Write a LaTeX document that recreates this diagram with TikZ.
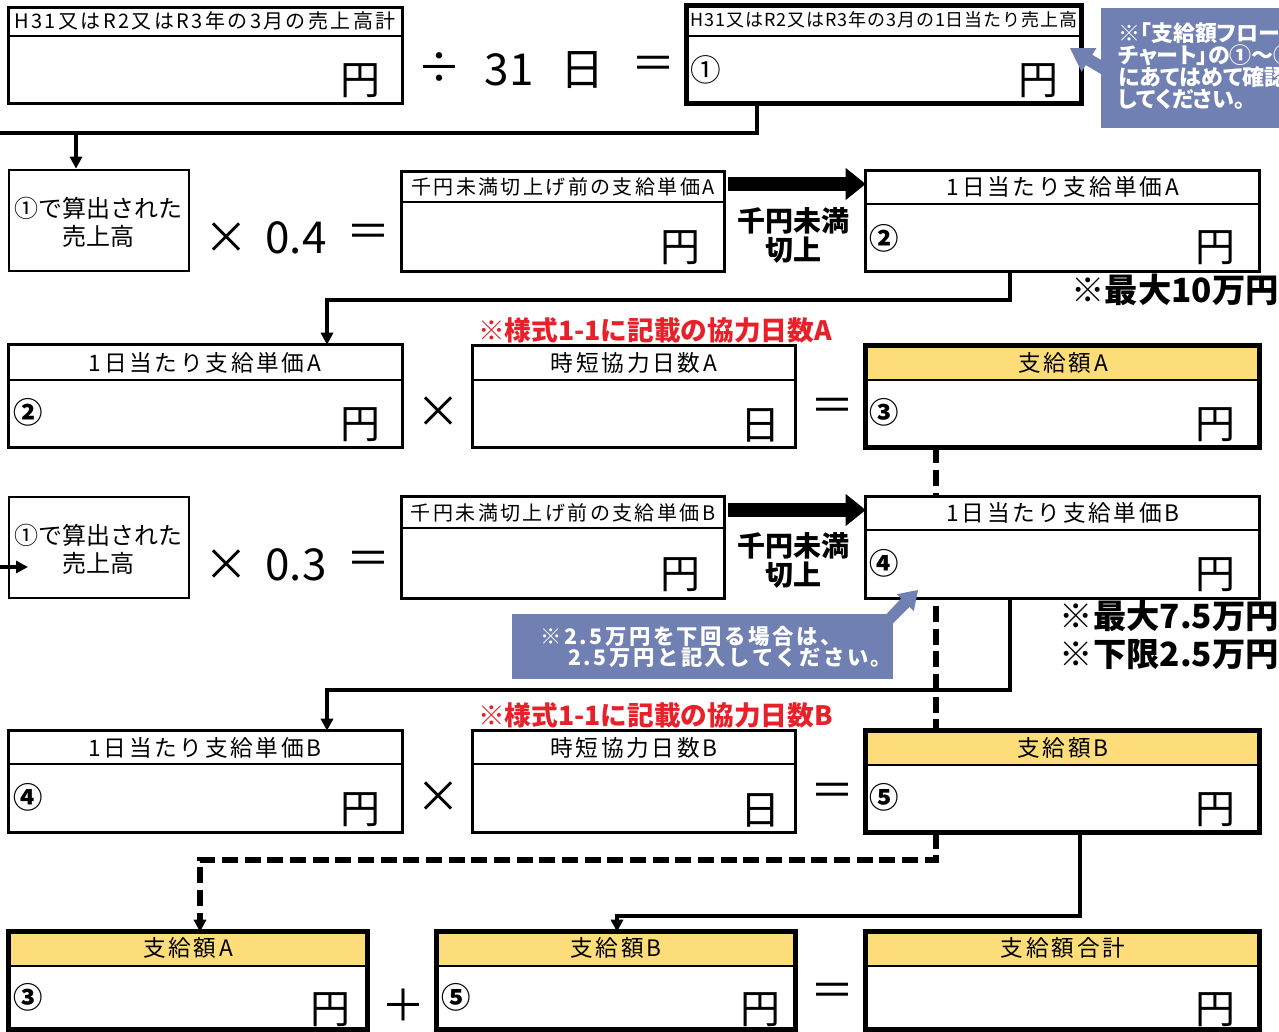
\documentclass[tikz,border=0pt]{standalone}
\usepackage{fontspec}
\setmainfont{Noto Sans CJK JP}
\newfontfamily\hsp[LetterSpace=12]{Noto Sans CJK JP}
\newfontfamily\hspn[LetterSpace=5]{Noto Sans CJK JP}
\newfontfamily\jpp[RawFeature=+palt]{Noto Sans CJK JP}
\usetikzlibrary{arrows.meta,fit,backgrounds}
\definecolor{cyel}{HTML}{FDDD7A}
\definecolor{cblue}{HTML}{7080B2}
\definecolor{cred}{HTML}{E8202A}
% name, x1,y1,x2,y2, header y, header fill, border width
\newcommand{\formbox}[8]{%
  \node[fill=white, inner sep=0pt, fit={(#2,#3) (#4,#5)}] (#1) {};
  \fill[#7] (#1.north west) rectangle (#1.east |- 0,#6);
  \draw[line width=2pt] (#1.west |- 0,#6) -- (#1.east |- 0,#6);
  \draw[line width=#8] (#1.north west) rectangle (#1.south east);
}
\begin{document}
\begin{tikzpicture}[x=0.75pt,y=-0.75pt,
  conn/.style={line width=2.6pt, -{Triangle[length=9pt,width=9pt]}},
  dconn/.style={line width=4pt, dash pattern=on 12pt off 5pt, -{Triangle[length=9pt,width=9pt]}},
  fat/.style={line width=11pt, -{Triangle[length=15pt,width=23pt]}, shorten <=3pt},
  plainbox/.style={draw, line width=2pt, fill=white, inner sep=0pt},
  hA/.style={font=\hsp\fontsize{15}{15}\selectfont, inner sep=0pt},
  hB/.style={font=\hspn\fontsize{13.5}{13.5}\selectfont, inner sep=0pt},
  hC/.style={font=\hsp\fontsize{15}{15}\selectfont, inner sep=0pt},
  hD/.style={font=\hsp\fontsize{17}{17}\selectfont, inner sep=0pt},
  yen/.style={font=\fontsize{30}{30}\selectfont, inner sep=0pt},
  circ/.style={font=\bfseries\fontsize{22}{22}\selectfont, inner sep=0pt},
  op/.style={font=\fontsize{33}{33}\selectfont, inner sep=0pt},
  num/.style={font=\fontsize{33}{33}\selectfont, inner sep=0pt},
  lab/.style={font=\bfseries\fontsize{21}{21}\selectfont, inner sep=0pt},
  maxnote/.style={font=\bfseries\fontsize{25}{25}\selectfont, inner sep=0pt, anchor=east},
  rednote/.style={font=\bfseries\fontsize{20}{20}\selectfont, text=cred, inner sep=0pt, anchor=west},
  salesbox/.style={font=\fontsize{18}{21}\selectfont, align=center, inner sep=0pt},
  cotext/.style={font=\jpp\bfseries\fontsize{16.5}{16.5}\selectfont, text=white, inner sep=0pt, anchor=west},
  cotextb/.style={font=\hsp\bfseries\fontsize{16}{16}\selectfont, text=white, inner sep=0pt, anchor=west}
]
\clip (0,0) rectangle (1279,1032);

\coordinate (k1) at (757,133);
\coordinate (k2) at (-6,133);
\coordinate (k3) at (-6,567);
\coordinate (j1) at (76,133);
\coordinate (k4) at (1010,300);
\coordinate (k5) at (1010,690);
\coordinate (k6) at (936,860);
\coordinate (k7) at (1080,916);
\coordinate (t9) at (28,567);

% ---------- row 1 ----------
\formbox{b1}{9}{8}{402}{103}{36}{white}{2pt}
\node[hA] (b1h) at (205,21) {H31又はR2又はR3年の3月の売上高計};
\node[yen] (b1y) at (360,81) {円};
\node[op] (o1) at (439,68) {÷};
\node[op] (o2) at (509,70) {31};
\node[op] (o3) at (582,70) {日};
\node[op] (o4) at (653,68) {＝};
\formbox{b2}{687}{6}{1081}{103}{36}{white}{3.4pt}
\node[hB] (b2h) at (884,20) {H31又はR2又はR3年の3月の1日当たり売上高};
\node[circ, font=\fontsize{23}{23}\selectfont] (b2c) at (706,70) {①};
\node[yen] (b2y) at (1038,81) {円};

% ---------- row 2 ----------
\node[plainbox, fit={(9,170) (189,271)}] (b3) {};
\node[salesbox] (b3t) at (98,222) {①で算出された\\売上高};
\node[op] (o5) at (226,238) {×};
\node[num] (o6) at (296,238) {0.4};
\node[op] (o7) at (368,236) {＝};
\formbox{b4}{402}{172}{724}{271}{202}{white}{2pt}
\node[hC] (b4h) at (563,187) {千円未満切上げ前の支給単価A};
\node[yen] (b4y) at (680,248) {円};
\formbox{b5}{866}{171}{1259}{271}{204}{white}{2pt}
\node[hD] (b5h) at (1063,187) {1日当たり支給単価A};
\node[circ] (b5c) at (884,238) {②};
\node[yen] (b5y) at (1215,248) {円};
\node[lab] (l1a) at (793,221) {千円未満};
\node[lab] (l1b) at (793,250) {切上};
\node[maxnote] (m1) at (1279,290) {※最大10万円};

% ---------- row 3 ----------
\formbox{b6}{9}{345}{402}{447}{380}{white}{2pt}
\node[hD] (b6h) at (205,363) {1日当たり支給単価A};
\node[circ] (b6c) at (28,412) {②};
\node[yen] (b6y) at (360,425) {円};
\node[op] (o8) at (438,412) {×};
\node[rednote] (r1) at (478,330) {※様式1-1に記載の協力日数A};
\formbox{b7}{473}{346}{795}{447}{380}{white}{2pt}
\node[hD] (b7h) at (634,363) {時短協力日数A};
\node[yen] (b7y) at (760,425) {日};
\node[op] (o9) at (832,410) {＝};
\formbox{b8}{866}{346}{1259}{447}{380}{cyel}{3.4pt}
\node[hD] (b8h) at (1063,363) {支給額A};
\node[circ] (b8c) at (884,412) {③};
\node[yen] (b8y) at (1215,425) {円};

% ---------- row 4 ----------
\node[plainbox, fit={(9,497) (189,598)}] (b9) {};
\node[salesbox] (b9t) at (98,549) {①で算出された\\売上高};
\node[op] (o10) at (226,565) {×};
\node[num] (o11) at (296,565) {0.3};
\node[op] (o12) at (368,563) {＝};
\formbox{b10}{402}{497}{724}{598}{528}{white}{2pt}
\node[hC] (b10h) at (563,513) {千円未満切上げ前の支給単価B};
\node[yen] (b10y) at (680,575) {円};
\formbox{b11}{866}{497}{1259}{598}{530}{white}{2pt}
\node[hD] (b11h) at (1063,513) {1日当たり支給単価B};
\node[circ] (b11c) at (884,563) {④};
\node[yen] (b11y) at (1215,575) {円};
\node[lab] (l2a) at (793,546) {千円未満};
\node[lab] (l2b) at (793,575) {切上};
\node[maxnote] (m2) at (1279,616) {※最大7.5万円};
\node[maxnote] (m3) at (1279,654) {※下限2.5万円};

% ---------- row 5 ----------
\formbox{b12}{9}{731}{402}{832}{764}{white}{2pt}
\node[hD] (b12h) at (205,748) {1日当たり支給単価B};
\node[circ] (b12c) at (28,797) {④};
\node[yen] (b12y) at (360,810) {円};
\node[op] (o13) at (438,797) {×};
\node[rednote] (r2) at (478,715) {※様式1-1に記載の協力日数B};
\formbox{b13}{473}{731}{795}{832}{764}{white}{2pt}
\node[hD] (b13h) at (634,748) {時短協力日数B};
\node[yen] (b13y) at (760,810) {日};
\node[op] (o14) at (832,795) {＝};
\formbox{b14}{866}{731}{1259}{832}{765}{cyel}{3.4pt}
\node[hD] (b14h) at (1063,748) {支給額B};
\node[circ] (b14c) at (884,797) {⑤};
\node[yen] (b14y) at (1215,810) {円};

% ---------- row 6 ----------
\formbox{b15}{9}{932}{367}{1029}{966}{cyel}{3.4pt}
\node[hD] (b15h) at (188,948) {支給額A};
\node[circ] (b15c) at (28,997) {③};
\node[yen] (b15y) at (330,1010) {円};
\node[op] (o15) at (403,1005) {＋};
\formbox{b16}{437}{932}{795}{1029}{966}{cyel}{3.4pt}
\node[hD] (b16h) at (616,948) {支給額B};
\node[circ] (b16c) at (456,997) {⑤};
\node[yen] (b16y) at (760,1010) {円};
\node[op] (o16) at (832,995) {＝};
\formbox{b17}{866}{932}{1259}{1029}{966}{cyel}{3.4pt}
\node[hD] (b17h) at (1063,948) {支給額合計};
\node[yen] (b17y) at (1215,1010) {円};

% ---------- connectors behind the boxes ----------
\begin{scope}[on background layer]
\fill[white] (0,0) rectangle (1279,1032);
\draw[dconn] (b8.south -| k6) -- (k6) -| (b15.north -| 200,0);
\draw[conn] (b5.south -| k4) -- (k4) -| (b6.north -| 327,0);
\draw[conn] (b11.south -| k5) -- (k5) -| (b12.north -| 327,0);
\draw[conn] (b14.south -| k7) -- (k7) -| (b16.north -| 617,0);
\draw[conn] (j1) -- (b3.north -| j1);
\end{scope}
\draw[conn] (b2.south -| k1) -- (k1) -- (k2) -- (k3) -- (t9);
\draw[fat] (b4.east |- 0,184) -- (b5.west |- 0,184);
\draw[fat] (b10.east |- 0,510) -- (b11.west |- 0,510);

% ---------- callouts ----------
\fill[cblue] (1101,8) rectangle (1290,128);
\fill[cblue] (1070,48) -- (1096.4,48.1) -- (1092.2,54.9) -- (1102,60.4) -- (1102,74.6) -- (1085.8,65.1) -- (1081.6,71.9) -- cycle;
\node[cotext] (c1a) at (1118,33) {※「支給額フロー};
\node[cotext] (c1b) at (1118,55) {チャート」の①～③};
\node[cotext] (c1c) at (1118,77) {にあてはめて確認};
\node[cotext] (c1d) at (1118,99) {してください。};
\fill[cblue] (512,614) rectangle (893,679);
\fill[cblue] (885.6,615) -- (901.1,598.5) -- (896.8,594.2) -- (918,590) -- (913.8,611.2) -- (909.5,606.9) -- (892,624.4) -- cycle;
\node[cotextb] (c2a) at (540,636) {※2.5万円を下回る場合は、};
\node[cotextb] (c2b) at (568,658) {2.5万円と記入してください。};
\end{tikzpicture}
\end{document}
